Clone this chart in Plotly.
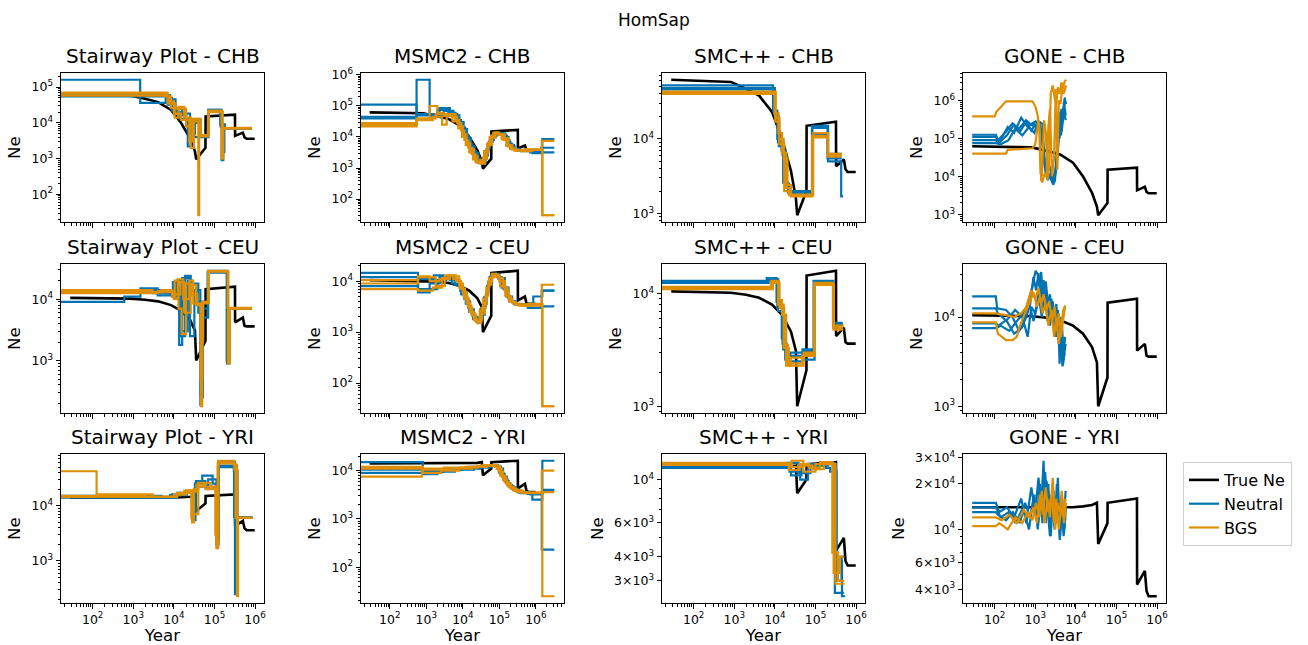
import math
import plotly.graph_objects as go

# ---------------------------------------------------------------- data
POPULATIONS = ["CHB", "CEU", "YRI"]
METHODS = ["Stairway Plot", "MSMC2", "SMC++", "GONE"]
X_TICK_YEARS = [1e2, 1e3, 1e4, 1e5, 1e6]

# true (simulated) Ne trajectories, years before present
TRUE_YEARS = [28, 830, 1950, 4100, 8500, 15000, 25000, 33000, 35500, 60000, 60500,
              320000, 322000, 500000, 550000, 620000, 980000]
TRUE_NE_CHB = [6.2e4, 5.8e4, 4.7e4, 3.8e4, 2.3e4, 1.0e4, 3.7e3, 1.6e3, 9.5e2, 2.0e3, 1.5e4,
               1.7e4, 4.3e3, 5.3e3, 3.9e3, 3.6e3, 3.6e3]
TRUE_NE_CEU = [1.05e4, 1.02e4, 9.8e3, 9.2e3, 8.0e3, 6.5e3, 4.6e3, 3.1e3, 1.0e3, 2.1e3, 1.45e4,
               1.6e4, 4.2e3, 5.0e3, 3.7e3, 3.6e3, 3.6e3]
TRUE_NE_YRI = [1.4e4, 1.4e4, 1.4e4, 1.4e4, 1.4e4, 1.42e4, 1.45e4, 1.5e4, 8.0e3, 1.1e4, 1.5e4,
               1.6e4, 4.3e3, 5.3e3, 3.9e3, 3.6e3, 3.6e3]
TRUE_NE_YRI_SMCPP = [1.15e4, 1.15e4, 1.15e4, 1.15e4, 1.15e4, 1.16e4, 1.17e4, 1.18e4, 8.5e3, 1.0e4, 1.2e4,
                     1.23e4, 4.3e3, 5.0e3, 3.8e3, 3.6e3, 3.6e3]

# step estimates: (interval breaks in years, Ne per interval)
SW_CHB_NEU = [
    ([10, 1480, 6300, 9000, 13000, 20000, 28000, 33000, 45000, 71000, 141000, 158000, 175000, 830000],
     [1.6e5, 3.6e4, 5.0e4, 2.2e4, 1.6e4, 1.2e4, 5e3, 1.2e4, 4.5e3, 2.3e4, 8e3, 1.5e3, 7e3]),
    ([10, 7000, 10000, 14000, 22000, 26000, 32000, 71000, 150000, 165000, 830000],
     [5.5e4, 3.2e4, 2.0e4, 1.3e4, 2.2e3, 1.1e4, 4.0e3, 2.3e4, 9e2, 7e3]),
    ([10, 8000, 11000, 16000, 25000, 30000, 45000, 70000, 140000, 180000, 830000],
     [6.0e4, 4.5e4, 2.5e4, 1.8e4, 3.5e3, 1.0e4, 4.5e3, 2.1e4, 9e3, 7e3]),
]
SW_CHB_BGS = [
    ([10, 6000, 8500, 10500, 13000, 18000, 26000, 31000, 40000, 42000, 70000, 150000, 165000, 830000],
     [6.5e4, 5.5e4, 2.6e4, 1.4e4, 2.8e4, 1.4e4, 2.0e3, 1.3e4, 26, 4.5e3, 2.1e4, 1.0e3, 7e3]),
    ([10, 7500, 10000, 15000, 24000, 29000, 44000, 70000, 160000, 830000],
     [5.8e4, 4.0e4, 1.8e4, 1.2e4, 3.0e3, 1.1e4, 4.2e3, 2.0e4, 7e3]),
    ([10, 7000, 11000, 20000, 27000, 46000, 72000, 155000, 830000],
     [7.0e4, 3.5e4, 2.5e4, 8e3, 1.3e4, 4.5e3, 2.2e4, 7.2e3]),
]
SW_CEU_NEU = [
    ([10, 600, 1500, 4000, 9500, 11500, 13500, 16000, 25000, 32000, 45000, 48000, 52000, 70000, 200000, 225000, 830000],
     [9e3, 1.1e4, 1.5e4, 1.15e4, 1.9e4, 1.2e4, 1.8e3, 2.2e4, 2.5e3, 1.4e4, 1.9e2, 9e3, 5e3, 2.8e4, 1.0e3, 7e3]),
    ([10, 3000, 9000, 12000, 16000, 22000, 28000, 40000, 46500, 52000, 68000, 210000, 240000, 830000],
     [1.35e4, 1.25e4, 1.1e4, 2.0e4, 3.0e3, 2.0e4, 1.8e4, 6e3, 2.5e2, 9e3, 2.7e4, 6e3, 7e3]),
    ([10, 2000, 8000, 11500, 14000, 19000, 26000, 36000, 46000, 50000, 69000, 205000, 235000, 830000],
     [1.3e4, 1.4e4, 1.2e4, 1.6e4, 2.5e3, 2.4e4, 1.2e4, 9e3, 3e2, 7e3, 2.9e4, 9e2, 7e3]),
]
SW_CEU_BGS = [
    ([10, 5000, 9000, 10500, 13000, 15500, 20000, 28000, 38000, 46500, 50000, 70000, 215000, 240000, 830000],
     [1.3e4, 1.4e4, 1.1e4, 2.0e4, 7e3, 2.7e3, 1.8e4, 1.2e4, 8e3, 1.8e2, 9e3, 2.9e4, 9e2, 7e3]),
    ([10, 4000, 10000, 12500, 17000, 24000, 30000, 45500, 50000, 72000, 220000, 830000],
     [1.25e4, 1.35e4, 1.0e4, 2.1e4, 1.0e4, 2.0e4, 8.5e3, 5e2, 8.5e3, 2.8e4, 7e3]),
    ([10, 3000, 9500, 14500, 18000, 26000, 35000, 47000, 52000, 71000, 212000, 830000],
     [1.4e4, 1.3e4, 1.2e4, 1.9e4, 6e3, 1.7e4, 8e3, 2e3, 8.8e3, 2.85e4, 7.2e3]),
]
SW_YRI_NEU = [
    ([10, 5000, 12000, 24000, 28500, 33000, 50000, 90000, 115000, 122000, 300000, 370000, 870000],
     [1.5e4, 1.4e4, 1.7e4, 1.8e4, 6e3, 2.5e4, 3.5e4, 2.5e4, 1.8e3, 5.0e4, 4.2e4, 6e3]),
    ([10, 8000, 20000, 29000, 34000, 70000, 112000, 126000, 320000, 345000, 870000],
     [1.45e4, 1.55e4, 1.7e4, 5.5e3, 2.2e4, 3.0e4, 2.0e3, 6.2e4, 2.5e2, 6e3]),
    ([10, 9000, 21000, 28000, 35000, 60000, 113000, 128000, 305000, 870000],
     [1.4e4, 1.6e4, 1.8e4, 8e3, 2.8e4, 2.2e4, 2.5e3, 5.3e4, 6.2e3]),
]
SW_YRI_BGS = [
    ([10, 125, 3000, 11700, 20000, 28000, 31000, 40000, 80000, 112000, 123000, 300000, 360000, 380000, 870000],
     [4.2e4, 1.6e4, 1.45e4, 1.6e4, 1.9e4, 5e3, 2.0e4, 2.6e4, 2.2e4, 1.7e3, 6.5e4, 5.5e4, 2.3e2, 6e3]),
    ([10, 2000, 10000, 18000, 27000, 30000, 36000, 60000, 110000, 125000, 310000, 365000, 870000],
     [1.5e4, 1.45e4, 1.6e4, 1.85e4, 6e3, 1.8e4, 2.4e4, 2.0e4, 2.2e3, 6.0e4, 4.5e4, 6e3]),
    ([10, 12000, 25000, 29000, 40000, 105000, 120000, 330000, 870000],
     [1.45e4, 1.7e4, 1.9e4, 7e3, 2.2e4, 3e3, 5.8e4, 6e3]),
]

MS_CHB_NEU = [
    ([10, 540, 2300, 4400, 6300, 7900, 10000, 12600, 15800, 20000, 25000, 31600, 40000, 45000, 50000, 63000,
      79000, 100000, 141000, 178000, 224000, 282000, 400000, 800000, 1.5e6, 3.2e6],
     [1.1e5, 5.5e4, 8.5e4, 6e4, 4e4, 2.5e4, 1.3e4, 7e3, 4e3, 2.5e3, 1.6e3, 1.5e3, 2.2e3, 3.5e3, 6e3, 1.0e4,
      1.3e4, 1.3e4, 1.0e4, 6e3, 4.5e3, 3.8e3, 3.5e3, 3.0e3, 8.5e3]),
    ([10, 540, 1230, 3000, 5500, 8000, 10500, 13000, 16500, 21000, 27000, 34000, 42000, 48000, 55000, 70000,
      90000, 120000, 160000, 200000, 260000, 350000, 700000, 1.4e6, 3.2e6],
     [4.5e4, 7e5, 5e4, 7e4, 5e4, 3e4, 1.8e4, 9e3, 5e3, 3e3, 1.8e3, 1.4e3, 2.5e3, 4.5e3, 8e3, 1.2e4,
      1.35e4, 1.1e4, 7e3, 5e3, 4e3, 3.6e3, 3.2e3, 4.5e3]),
    ([10, 540, 2000, 4000, 7000, 9000, 11500, 14500, 18000, 23000, 29000, 37000, 44000, 52000, 65000, 85000,
      110000, 150000, 190000, 250000, 330000, 750000, 1.45e6, 3.2e6],
     [4.0e4, 5.0e4, 7.5e4, 5.5e4, 3.5e4, 2e4, 1.1e4, 6e3, 3.5e3, 2e3, 1.5e3, 2e3, 4e3, 7e3, 1.1e4, 1.3e4,
      1.2e4, 8e3, 5.5e3, 4.2e3, 3.6e3, 3.4e3, 3.2e3]),
]
MS_CHB_BGS = [
    ([10, 540, 1230, 2000, 3000, 4400, 6300, 8000, 10000, 12600, 15800, 20000, 25000, 31600, 40000, 45000,
      50000, 63000, 79000, 100000, 141000, 178000, 224000, 282000, 400000, 800000, 1.5e6, 3.2e6],
     [2.8e4, 3.7e4, 1.0e5, 6e4, 5e4, 5.5e4, 3.5e4, 2.2e4, 1.2e4, 6.5e3, 4e3, 2.4e3, 1.5e3, 1.4e3, 2.0e3, 3.2e3,
      5.5e3, 9.5e3, 1.3e4, 1.2e4, 9e3, 5.5e3, 4.3e3, 3.8e3, 3.5e3, 3.8e3, 30]),
    ([10, 540, 1500, 2700, 3600, 5000, 7000, 9000, 11000, 14000, 17500, 22000, 28000, 35000, 43000, 49000,
      58000, 75000, 95000, 130000, 170000, 215000, 290000, 500000, 1.45e6, 3.2e6],
     [2.2e4, 3.5e4, 4.5e4, 2.5e4, 5.5e4, 4.5e4, 2.8e4, 1.6e4, 8e3, 4.5e3, 2.8e3, 1.6e3, 1.4e3, 2.2e3, 3.8e3, 6.5e3,
      1.1e4, 1.4e4, 1.2e4, 8e3, 5e3, 4e3, 3.7e3, 4e3, 7.5e3]),
    ([10, 540, 1800, 3200, 5200, 7500, 9500, 12000, 15000, 19000, 24000, 30000, 38000, 46000, 54000, 68000,
      88000, 115000, 155000, 195000, 260000, 450000, 1.5e6, 3.2e6],
     [2.5e4, 4.0e4, 5.5e4, 4.8e4, 3.2e4, 1.9e4, 1.0e4, 5.5e3, 3.2e3, 1.9e3, 1.5e3, 1.8e3, 3.5e3, 6e3, 1.0e4, 1.35e4,
      1.25e4, 8.5e3, 5.2e3, 4.1e3, 3.6e3, 3.9e3, 30]),
]
MS_CEU_NEU = [
    ([10, 590, 1230, 2300, 4400, 7900, 10000, 12600, 15800, 20000, 25000, 31600, 40000, 45000, 50000, 63000,
      79000, 100000, 141000, 178000, 224000, 282000, 400000, 850000, 1.5e6, 3.2e6],
     [1.45e4, 6e3, 9e3, 1.2e4, 1.05e4, 8e3, 6e3, 4e3, 2.8e3, 2.0e3, 1.6e3, 2.2e3, 3.6e3, 6e3, 9.5e3, 1.3e4,
      1.4e4, 1.15e4, 7.5e3, 5e3, 4e3, 3.6e3, 3.4e3, 5e3, 6.5e3]),
    ([10, 590, 1600, 3000, 5000, 8500, 11000, 14000, 17500, 22000, 28000, 35000, 43000, 49000, 58000, 75000,
      95000, 130000, 170000, 215000, 290000, 600000, 1.4e6, 3.2e6],
     [8e3, 1.1e4, 1.3e4, 1.15e4, 9e3, 6.5e3, 4.5e3, 3e3, 2.2e3, 1.7e3, 1.9e3, 3.2e3, 5.5e3, 9e3, 1.25e4, 1.35e4,
      1.1e4, 7e3, 4.8e3, 3.9e3, 3.5e3, 3.0e3, 3.2e3]),
    ([10, 590, 2000, 3500, 6000, 9000, 12000, 15000, 19000, 24000, 30000, 38000, 46000, 54000, 68000, 88000,
      115000, 155000, 195000, 260000, 500000, 1.45e6, 3.2e6],
     [1.2e4, 7e3, 1.05e4, 1.2e4, 8.5e3, 5.5e3, 3.6e3, 2.5e3, 1.8e3, 1.8e3, 2.8e3, 4.8e3, 8e3, 1.2e4, 1.4e4, 1.2e4,
      7.5e3, 5e3, 4e3, 3.5e3, 3.4e3, 6.5e3]),
]
MS_CEU_BGS = [
    ([10, 590, 1230, 2300, 4400, 7900, 10000, 12600, 15800, 20000, 25000, 31600, 40000, 45000, 50000, 63000,
      79000, 100000, 141000, 178000, 224000, 282000, 400000, 850000, 1.5e6, 3.2e6],
     [1.05e4, 1.25e4, 1.0e4, 1.1e4, 1.25e4, 9e3, 6e3, 3.8e3, 2.5e3, 1.8e3, 1.5e3, 2.3e3, 3.8e3, 6.5e3, 1.0e4, 1.35e4,
      1.3e4, 1.0e4, 6.5e3, 4.5e3, 3.8e3, 3.5e3, 3.3e3, 3.5e3, 35]),
    ([10, 590, 1500, 2700, 4000, 6500, 9000, 11500, 14500, 18000, 23000, 29000, 36000, 44000, 52000, 62000,
      80000, 105000, 145000, 185000, 240000, 350000, 1.45e6, 3.2e6],
     [7e3, 6.5e3, 7.5e3, 1.15e4, 1.3e4, 1.0e4, 7e3, 4.5e3, 3e3, 2.1e3, 1.6e3, 2.6e3, 4.5e3, 7.5e3, 1.15e4, 1.4e4,
      1.25e4, 8e3, 5.2e3, 4e3, 3.6e3, 3.3e3, 8.5e3]),
    ([10, 590, 1800, 3200, 5500, 8000, 10500, 13500, 17000, 21000, 26000, 33000, 42000, 50000, 60000, 72000,
      92000, 125000, 165000, 210000, 280000, 600000, 1.5e6, 3.2e6],
     [9e3, 1.2e4, 8e3, 1.3e4, 1.1e4, 7.5e3, 5e3, 3.3e3, 2.4e3, 1.7e3, 1.7e3, 3e3, 5.2e3, 8.5e3, 1.2e4, 1.35e4,
      1.15e4, 7.5e3, 5e3, 3.9e3, 3.5e3, 3.6e3, 35]),
]
MS_YRI_NEU = [
    ([10, 800, 3000, 10000, 30000, 63000, 90000, 126000, 160000, 200000, 282000, 400000, 800000, 1.5e6, 3.2e6],
     [1.5e4, 9.5e3, 1.05e4, 1.1e4, 1.2e4, 1.3e4, 1.1e4, 7.5e3, 5.5e3, 4.5e3, 3.8e3, 3.4e3, 2.5e3, 1.6e4]),
    ([10, 800, 2000, 6000, 20000, 50000, 80000, 110000, 140000, 180000, 240000, 350000, 700000, 1.45e6, 3.2e6],
     [9e3, 8.5e3, 9.5e3, 1.05e4, 1.15e4, 1.25e4, 1.2e4, 8.5e3, 6e3, 4.8e3, 4e3, 3.5e3, 3.2e3, 2.3e2]),
    ([10, 800, 4000, 15000, 40000, 70000, 100000, 130000, 170000, 220000, 320000, 600000, 1.5e6, 3.2e6],
     [1.05e4, 1.0e4, 1.1e4, 1.2e4, 1.3e4, 1.25e4, 9e3, 6.5e3, 5e3, 4.2e3, 3.6e3, 3.3e3, 4e3]),
]
MS_YRI_BGS = [
    ([10, 750, 3000, 12000, 35000, 65000, 95000, 125000, 160000, 210000, 300000, 500000, 1.5e6, 3.2e6],
     [7.5e3, 1.1e4, 1.15e4, 1.2e4, 1.3e4, 1.25e4, 9.5e3, 6.5e3, 5e3, 4.2e3, 3.6e3, 3.4e3, 25]),
    ([10, 800, 2500, 8000, 25000, 55000, 85000, 115000, 150000, 190000, 260000, 450000, 1.45e6, 3.2e6],
     [1.1e4, 9e3, 1.0e4, 1.15e4, 1.25e4, 1.3e4, 1.1e4, 7.5e3, 5.5e3, 4.5e3, 3.8e3, 3.5e3, 1.0e4]),
    ([10, 800, 5000, 18000, 45000, 75000, 105000, 140000, 180000, 240000, 400000, 1.5e6, 3.2e6],
     [1.2e4, 1.05e4, 1.1e4, 1.2e4, 1.3e4, 1.2e4, 8e3, 5.8e3, 4.6e3, 3.9e3, 3.5e3, 3.6e3]),
]

SP_CHB_NEU = [
    ([10, 9000, 11500, 14500, 18500, 22500, 84000, 205000, 430000, 480000],
     [5.2e4, 2.4e4, 1.0e4, 7e3, 2.5e3, 2.0e3, 1.5e4, 5.0e3, 1.7e3]),
    ([10, 10000, 12500, 15500, 19500, 24000, 86000, 200000, 440000],
     [4.8e4, 2.0e4, 8e3, 6e3, 2.3e3, 1.8e3, 1.15e4, 6.3e3]),
    ([10, 9500, 12000, 16000, 21000, 82000, 198000, 445000],
     [4.6e4, 2.2e4, 9e3, 2.6e3, 1.9e3, 1.4e4, 5.5e3]),
]
SP_CHB_BGS = [
    ([10, 10500, 13000, 16500, 20500, 25000, 85000, 202000, 440000],
     [4.3e4, 1.9e4, 1.0e4, 5.5e3, 2.4e3, 1.7e3, 1.05e4, 6.3e3]),
    ([10, 9800, 12200, 15000, 19000, 23000, 83000, 200000, 435000],
     [4.0e4, 2.2e4, 1.2e4, 6.5e3, 2.2e3, 1.75e3, 1.1e4, 5.8e3]),
    ([10, 10200, 12800, 17000, 22000, 88000, 205000, 450000],
     [4.15e4, 1.7e4, 8.5e3, 2.0e3, 1.8e3, 1.2e4, 6.0e3]),
]
SP_CEU_NEU = [
    ([10, 6300, 11000, 14800, 18000, 23000, 49000, 90000, 275000, 480000],
     [1.3e4, 1.38e4, 8.5e3, 4e3, 2.6e3, 2.8e3, 3.1e3, 1.3e4, 5.3e3]),
    ([10, 7000, 12000, 15500, 19500, 24000, 50000, 95000, 280000, 490000],
     [1.25e4, 1.35e4, 7e3, 3.6e3, 2.4e3, 3.0e3, 2.6e3, 1.25e4, 5.0e3]),
    ([10, 6800, 11500, 16000, 20500, 48000, 92000, 270000, 470000],
     [1.28e4, 1.33e4, 7.5e3, 3.2e3, 2.5e3, 3.2e3, 1.28e4, 5.5e3]),
]
SP_CEU_BGS = [
    ([10, 8500, 12500, 15000, 19000, 24500, 52000, 96000, 285000, 495000],
     [1.15e4, 1.3e4, 8.8e3, 6.5e3, 2.3e3, 2.7e3, 2.9e3, 1.2e4, 5.2e3]),
    ([10, 9000, 13000, 17000, 21000, 47000, 94000, 278000, 485000],
     [1.1e4, 1.25e4, 7.5e3, 3.5e3, 2.4e3, 2.8e3, 1.22e4, 4.8e3]),
    ([10, 8000, 12000, 16500, 22000, 51000, 93000, 272000, 475000],
     [1.12e4, 1.28e4, 8e3, 3.3e3, 2.3e3, 3e3, 1.25e4, 5.0e3]),
]
SP_YRI_NEU = [
    ([10, 23000, 42000, 65000, 98000, 180000, 230000, 330000, 450000, 540000],
     [1.2e4, 1.1e4, 1.0e4, 1.15e4, 1.2e4, 1.15e4, 1.1e4, 3.8e3, 2.5e3]),
    ([10, 25000, 45000, 90000, 200000, 320000, 440000, 520000],
     [1.15e4, 1.05e4, 1.2e4, 1.18e4, 1.2e4, 3.0e3, 4e3]),
    ([10, 20000, 38000, 75000, 150000, 300000, 500000],
     [1.17e4, 1.22e4, 1.08e4, 1.18e4, 1.22e4, 2.6e3]),
]
SP_YRI_BGS = [
    ([10, 22000, 40000, 70000, 130000, 190000, 310000, 420000, 520000],
     [1.22e4, 1.12e4, 1.2e4, 1.15e4, 1.23e4, 1.2e4, 2.9e3, 2.9e3]),
    ([10, 26000, 50000, 100000, 170000, 260000, 360000, 510000],
     [1.19e4, 1.25e4, 1.1e4, 1.2e4, 1.23e4, 4.2e3, 3.0e3]),
    ([10, 24000, 44000, 85000, 160000, 280000, 400000, 500000],
     [1.2e4, 1.16e4, 1.18e4, 1.13e4, 1.21e4, 3.3e3, 4.0e3]),
]

# GONE estimates: (years, Ne) points
GO_CHB_NEU = [
    ([28, 107, 120, 190, 275, 400, 590, 850, 1020, 1260, 1510, 1700, 1820, 2190, 2690, 3240, 3600, 3980, 4400, 4790, 5300, 5750],
     [1.25e5, 1.25e5, 9e4, 1.5e5, 2.5e5, 1.8e5, 3e5, 2.2e5, 2.8e5, 2.5e5, 1.2e5, 2e4, 1.2e4, 2e4, 9e3, 1.5e4, 3e5, 1e5, 6e5, 3e5, 1.1e6, 8e5]),
    ([28, 107, 130, 210, 300, 450, 650, 900, 1100, 1300, 1500, 1650, 1900, 2300, 2800, 3300, 3700, 4100, 4600, 5100, 5600],
     [1.1e5, 1.1e5, 8e4, 2e5, 1.4e5, 3.5e5, 2e5, 2.6e5, 1.8e5, 2.7e5, 2.4e5, 3e4, 1.5e4, 1e4, 6e3, 2e4, 1.2e5, 5e5, 2.5e5, 9e5, 4e5]),
    ([28, 107, 125, 200, 290, 420, 600, 800, 1000, 1250, 1450, 1700, 2000, 2500, 3000, 3500, 3900, 4300, 4800, 5400],
     [9e4, 9e4, 7.5e4, 1.2e5, 2.2e5, 1.5e5, 2.8e5, 1.6e5, 2.3e5, 2e5, 1e5, 1.8e4, 8e3, 1.2e4, 7e3, 3e4, 2e5, 1.2e5, 4e5, 1.2e6]),
    ([28, 107, 140, 220, 320, 480, 700, 950, 1150, 1400, 1600, 1800, 2200, 2700, 3100, 3600, 4000, 4500, 5000, 5600],
     [7.5e4, 7.5e4, 7e4, 9e4, 1.8e5, 1.2e5, 2e5, 1.4e5, 2.6e5, 1.6e5, 4e4, 1.5e4, 1.1e4, 7e3, 1.4e4, 5e4, 3e5, 1.5e5, 6e5, 3e5]),
]
GO_CHB_BGS = [
    ([28, 100, 110, 150, 190, 850, 1000, 1150, 1260, 1350, 1450, 1650, 1820, 2000, 2190, 2400, 2700, 3000, 3300, 3600, 4000, 4400, 4800, 5300, 5750],
     [3.8e5, 3.8e5, 5e5, 7e5, 9.5e5, 9.5e5, 7e5, 4e5, 1.5e5, 1.2e4, 1e4, 3e5, 1.5e5, 8e3, 2e4, 1.5e6, 2.5e6, 1.2e6, 8e5, 2.2e6, 1.5e6, 3e6, 2e6, 3.2e6, 3.5e6]),
    ([28, 190, 210, 850, 1000, 1100, 1200, 1300, 1400, 1500, 1700, 1900, 2100, 2300, 2600, 2900, 3200, 3500, 3800, 4200, 4600, 5000, 5750],
     [4e4, 4e4, 5e4, 5.5e4, 7e4, 1.5e5, 3e5, 1.5e5, 8e3, 7e3, 1.2e4, 1e4, 2e5, 6e5, 1e4, 3e4, 2e6, 1.5e4, 1e6, 8e5, 2e6, 1.5e6, 2.5e6]),
]
GO_CEU_NEU = [
    ([28, 107, 115, 190, 275, 400, 500, 590, 700, 850, 1020, 1150, 1260, 1400, 1510, 1820, 2190, 2690, 3240, 3600, 3980, 4400, 4790, 5300],
     [1.7e4, 1.7e4, 1.25e4, 1.2e4, 1.0e4, 7e3, 8e3, 1.2e4, 1.6e4, 2.2e4, 3.3e4, 3.0e4, 2.2e4, 3.2e4, 1.8e4, 2.5e4, 1.0e4, 1.5e4, 6e3, 1.2e4, 3e3, 8e3, 4e3, 6e3]),
    ([28, 107, 120, 200, 300, 450, 600, 750, 900, 1050, 1200, 1400, 1600, 1900, 2300, 2800, 3300, 3800, 4300, 4800, 5400],
     [1.25e4, 1.25e4, 1.1e4, 9e3, 6.5e3, 7.5e3, 1e4, 1.4e4, 2.8e4, 2.0e4, 3.1e4, 1.5e4, 2.6e4, 1.3e4, 1.8e4, 8e3, 1.4e4, 5e3, 1.0e4, 2.9e3, 6e3]),
    ([28, 107, 125, 210, 320, 480, 650, 800, 1000, 1200, 1450, 1700, 2000, 2500, 3000, 3500, 4000, 4500, 5000, 5600],
     [8.5e3, 8.5e3, 8e3, 9.5e3, 1.2e4, 1.0e4, 6e3, 1.3e4, 1.1e4, 1.8e4, 1.0e4, 2.0e4, 9e3, 1.6e4, 7e3, 1.2e4, 4.5e3, 9e3, 3.5e3, 5e3]),
    ([28, 107, 140, 230, 350, 520, 700, 900, 1100, 1350, 1600, 1900, 2300, 2700, 3200, 3700, 4200, 4700, 5300],
     [7.5e3, 7.5e3, 8e3, 7e3, 9e3, 1.1e4, 1.5e4, 9e3, 1.3e4, 2.4e4, 1.2e4, 1.7e4, 8e3, 1.3e4, 6e3, 1.1e4, 6e3, 2.8e3, 4e3]),
]
GO_CEU_BGS = [
    ([28, 107, 190, 300, 450, 600, 800, 1000, 1200, 1400, 1600, 1900, 2200, 2600, 3000, 3400, 3800, 4300, 4800, 5400],
     [1.1e4, 1.1e4, 1.05e4, 1.0e4, 1.1e4, 1.3e4, 2.0e4, 1.6e4, 2.1e4, 1.4e4, 1.8e4, 1.2e4, 1.5e4, 9e3, 1.3e4, 7e3, 1.1e4, 6e3, 9e3, 1.3e4]),
    ([28, 107, 120, 190, 275, 350, 420, 500, 600, 750, 900, 1100, 1300, 1500, 1800, 2100, 2500, 2900, 3300, 3800, 4300, 4900, 5500],
     [8.7e3, 8.7e3, 6.5e3, 5.5e3, 5.5e3, 6e3, 8e3, 1.0e4, 1.2e4, 1.5e4, 1.9e4, 1.3e4, 1.7e4, 1.1e4, 1.4e4, 8e3, 1.2e4, 6e3, 1.0e4, 5e3, 8e3, 1.2e4, 1.35e4]),
]
GO_YRI_NEU = [
    ([28, 107, 130, 200, 300, 450, 600, 800, 1000, 1200, 1400, 1600, 1800, 2100, 2400, 2800, 3200, 3600, 4100, 4600, 5200, 5700],
     [1.5e4, 1.5e4, 1.3e4, 1.4e4, 1.2e4, 1.6e4, 1.1e4, 1.9e4, 1.3e4, 2.2e4, 1.4e4, 2.85e4, 1.1e4, 2.0e4, 9e3, 1.8e4, 1.1e4, 2.2e4, 9e3, 1.6e4, 1.0e4, 1.4e4]),
    ([28, 107, 140, 220, 330, 500, 700, 900, 1100, 1300, 1500, 1750, 2000, 2300, 2700, 3100, 3500, 4000, 4500, 5000, 5600],
     [1.4e4, 1.4e4, 1.2e4, 1.3e4, 1.1e4, 1.4e4, 1.0e4, 1.6e4, 1.2e4, 2.0e4, 1.1e4, 2.4e4, 1.4e4, 9e3, 1.9e4, 1.2e4, 1.7e4, 8.5e3, 1.5e4, 1.1e4, 1.8e4]),
    ([28, 107, 120, 190, 280, 420, 560, 750, 950, 1150, 1350, 1600, 1900, 2200, 2600, 3000, 3400, 3900, 4400, 5000, 5500],
     [1.3e4, 1.3e4, 1.25e4, 1.15e4, 1.3e4, 1.1e4, 1.5e4, 1.2e4, 1.7e4, 1.0e4, 1.5e4, 1.2e4, 2.1e4, 1.3e4, 1.6e4, 1.0e4, 2.0e4, 1.2e4, 1.4e4, 9e3, 1.2e4]),
]
GO_YRI_BGS = [
    ([28, 107, 130, 210, 320, 480, 650, 850, 1050, 1250, 1450, 1700, 2000, 2300, 2700, 3100, 3500, 4000, 4500, 5100, 5700],
     [1.05e4, 1.05e4, 1.1e4, 1.0e4, 1.2e4, 1.1e4, 1.3e4, 1.15e4, 1.5e4, 1.2e4, 1.8e4, 1.1e4, 1.6e4, 1.2e4, 2.2e4, 1.0e4, 1.5e4, 1.3e4, 1.8e4, 1.1e4, 1.5e4]),
    ([28, 107, 150, 230, 350, 520, 700, 900, 1100, 1300, 1550, 1800, 2100, 2500, 2900, 3300, 3800, 4300, 4900, 5500],
     [1.2e4, 1.2e4, 1.15e4, 1.25e4, 1.1e4, 1.35e4, 1.2e4, 1.4e4, 1.1e4, 1.7e4, 1.25e4, 1.9e4, 1.3e4, 1.7e4, 1.1e4, 1.6e4, 1.0e4, 1.4e4, 1.2e4, 1.6e4]),
]

# panel table built from the named arrays: (true Ne, neutral runs, BGS runs, step?)
PANELS = {
    ("CHB", "Stairway Plot"): (TRUE_NE_CHB, SW_CHB_NEU, SW_CHB_BGS, True),
    ("CHB", "MSMC2"): (TRUE_NE_CHB, MS_CHB_NEU, MS_CHB_BGS, True),
    ("CHB", "SMC++"): (TRUE_NE_CHB, SP_CHB_NEU, SP_CHB_BGS, True),
    ("CHB", "GONE"): (TRUE_NE_CHB, GO_CHB_NEU, GO_CHB_BGS, False),
    ("CEU", "Stairway Plot"): (TRUE_NE_CEU, SW_CEU_NEU, SW_CEU_BGS, True),
    ("CEU", "MSMC2"): (TRUE_NE_CEU, MS_CEU_NEU, MS_CEU_BGS, True),
    ("CEU", "SMC++"): (TRUE_NE_CEU, SP_CEU_NEU, SP_CEU_BGS, True),
    ("CEU", "GONE"): (TRUE_NE_CEU, GO_CEU_NEU, GO_CEU_BGS, False),
    ("YRI", "Stairway Plot"): (TRUE_NE_YRI, SW_YRI_NEU, SW_YRI_BGS, True),
    ("YRI", "MSMC2"): (TRUE_NE_YRI, MS_YRI_NEU, MS_YRI_BGS, True),
    ("YRI", "SMC++"): (TRUE_NE_YRI_SMCPP, SP_YRI_NEU, SP_YRI_BGS, True),
    ("YRI", "GONE"): (TRUE_NE_YRI, GO_YRI_NEU, GO_YRI_BGS, False),
}

# ---------------------------------------------------------------- layout / style
W, H = 1308, 645
COL_LEFT_PX = [61, 361, 662, 963]
ROW_TOP_PX = [73, 264, 454]
BOX_W_PX, BOX_H_PX = 203, 149
COL_XRANGE_LOG = [(1.22, 6.22), (1.21, 6.77), (1.22, 6.22), (1.22, 6.22)]
C_TRUE, C_NEU, C_BGS = "#000000", "#0173b2", "#de8f05"
FONT = "DejaVu Sans"


def sup_label(k):
    return "10<sup>%d</sup>" % k


def step_xy(breaks, values):
    n = min(len(breaks) - 1, len(values))
    return list(breaks[:n + 1]), list(values[:n]) + [values[n - 1]]


def log_ticks(lo, hi, label_minor):
    major_v, major_t, minor_v = [], [], []
    for k in range(math.floor(lo) - 1, math.ceil(hi) + 1):
        for m in range(1, 10):
            v = m * 10 ** k
            lv = math.log10(v)
            if lv < lo - 1e-9 or lv > hi + 1e-9:
                continue
            if m == 1:
                major_v.append(v)
                major_t.append(sup_label(k))
            elif label_minor and m in (2, 3, 4, 6):
                major_v.append(v)
                major_t.append("%d\u00d710<sup>%d</sup>" % (m, k))
            else:
                minor_v.append(v)
    return major_v, major_t, minor_v


fig = go.Figure()
layout = {}
annotations = []
idx = 0
legend_done = {"true": False, "neu": False, "bgs": False}
last_row = len(POPULATIONS) - 1

for r, pop in enumerate(POPULATIONS):
    for c, meth in enumerate(METHODS):
        idx += 1
        sfx = "" if idx == 1 else str(idx)
        xa, ya = "x" + sfx, "y" + sfx
        true_ne, neu, bgs, is_step = PANELS[(pop, meth)]
        all_y = list(true_ne)

        fig.add_trace(go.Scatter(
            x=TRUE_YEARS, y=true_ne, mode="lines", name="True Ne",
            line=dict(color=C_TRUE, width=2.6), xaxis=xa, yaxis=ya,
            legendgroup="true", showlegend=not legend_done["true"]))
        legend_done["true"] = True

        for runs, col, key, nm in ((neu, C_NEU, "neu", "Neutral"), (bgs, C_BGS, "bgs", "BGS")):
            for xs, ys in runs:
                if is_step:
                    px, py = step_xy(xs, ys)
                    shape = "hv"
                else:
                    px, py = list(xs), list(ys)
                    shape = "linear"
                all_y += py
                fig.add_trace(go.Scatter(
                    x=px, y=py, mode="lines", name=nm, line_shape=shape,
                    line=dict(color=col, width=2.2), xaxis=xa, yaxis=ya,
                    legendgroup=key, showlegend=not legend_done[key]))
                legend_done[key] = True

        # y autoscale like matplotlib (5 % margin in log space)
        lo = math.log10(min(all_y))
        hi = math.log10(max(all_y))
        pad = 0.05 * (hi - lo)
        ylo, yhi = lo - pad, hi + pad
        yv, yt, ym = log_ticks(ylo, yhi, (yhi - ylo) <= 1.0)

        xlo, xhi = COL_XRANGE_LOG[c]
        xv = [v for v in X_TICK_YEARS if xlo <= math.log10(v) <= xhi]
        xt = [sup_label(round(math.log10(v))) for v in xv]
        _, _, xm = log_ticks(xlo, xhi, False)

        x0 = COL_LEFT_PX[c] / W
        x1 = (COL_LEFT_PX[c] + BOX_W_PX) / W
        y1 = 1 - ROW_TOP_PX[r] / H
        y0 = 1 - (ROW_TOP_PX[r] + BOX_H_PX) / H

        common = dict(
            showline=True, linecolor="black", linewidth=1, mirror=True,
            ticks="outside", ticklen=4.5, tickwidth=1, tickcolor="black",
            showgrid=False, zeroline=False, automargin=False,
            tickfont=dict(family=FONT, size=12.5, color="black"),
        )
        xaxis = dict(
            common, type="log", domain=[x0, x1], anchor=ya, range=[xlo, xhi],
            tickmode="array", tickvals=xv, ticktext=xt,
            showticklabels=(r == last_row),
            minor=dict(tickmode="array", tickvals=xm, ticks="outside", ticklen=2.5,
                       tickwidth=0.8, tickcolor="black", showgrid=False),
        )
        if r == last_row:
            xaxis["title"] = dict(text="Year", font=dict(family=FONT, size=16.7, color="black"),
                                  standoff=4)
        layout["xaxis" + sfx] = xaxis
        layout["yaxis" + sfx] = dict(
            common, type="log", domain=[y0, y1], anchor=xa, range=[ylo, yhi],
            tickmode="array", tickvals=yv, ticktext=yt,
            minor=dict(tickmode="array", tickvals=ym, ticks="outside", ticklen=2.5,
                       tickwidth=0.8, tickcolor="black", showgrid=False),
            title=dict(text="Ne", font=dict(family=FONT, size=16.7, color="black"), standoff=6),
        )
        annotations.append(dict(
            text="%s - %s" % (meth, pop), x=(x0 + x1) / 2, y=y1, xref="paper", yref="paper",
            xanchor="center", yanchor="bottom", yshift=3, showarrow=False,
            font=dict(family=FONT, size=20, color="black")))

annotations.append(dict(
    text="HomSap", x=0.5, y=1 - 20 / H, xref="paper", yref="paper",
    xanchor="center", yanchor="middle", showarrow=False,
    font=dict(family=FONT, size=17, color="black")))

fig.update_layout(
    width=W, height=H, margin=dict(l=0, r=0, t=0, b=0),
    paper_bgcolor="white", plot_bgcolor="white",
    font=dict(family=FONT, color="black"),
    annotations=annotations,
    showlegend=True,
    legend=dict(x=1183 / W, y=1 - 462 / H, xanchor="left", yanchor="top",
                bgcolor="white", bordercolor="#d0d0d0", borderwidth=1,
                font=dict(family=FONT, size=16, color="black"),
                itemwidth=30, tracegroupgap=0),
    **layout,
)

fig.write_html("out.html", config={"displayModeBar": False},
               post_script="document.body.style.margin='0';")
